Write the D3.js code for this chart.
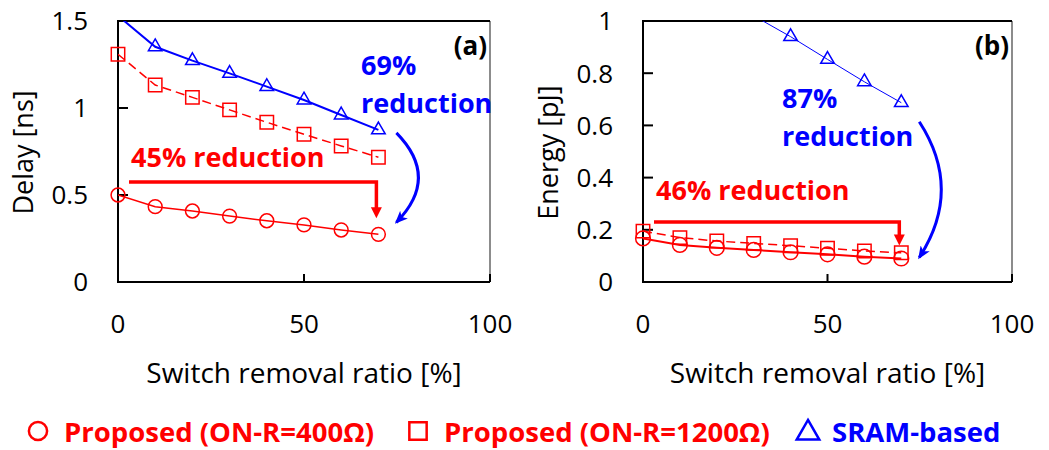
<!DOCTYPE html>
<html>
<head>
<meta charset="utf-8">
<script src="https://cdn.jsdelivr.net/npm/d3@7"></script>
<style>
  body { margin: 0; background: #fff; }
  svg { display: block; font-family: "Open Sans", sans-serif; }
</style>
</head>
<body>
<svg id="chart" width="1049" height="450"></svg>
<script>
// switch removal ratio [%]
const ratios = [0, 10, 20, 30, 40, 50, 60, 70];

// (a) delay [ns]
const delay400 = [0.500, 0.433, 0.408, 0.379, 0.352, 0.328, 0.299, 0.274];
const delay1200 = [1.309, 1.132, 1.061, 0.989, 0.918, 0.849, 0.782, 0.717];
const delaySram = [1.53, 1.352, 1.272, 1.199, 1.123, 1.046, 0.960, 0.874];

// (b) energy [pJ]
const energy400 = [0.167, 0.142, 0.131, 0.123, 0.114, 0.106, 0.097, 0.090];
const energy1200 = [0.195, 0.170, 0.157, 0.148, 0.139, 0.129, 0.119, 0.112];
const energySram = [1.33, 1.22, 1.12, 1.02, 0.940, 0.853, 0.767, 0.687];

const xTicks = [0, 50, 100];
const delayTicks = [0, 0.5, 1, 1.5];
const energyTicks = [0, 0.2, 0.4, 0.6, 0.8, 1];

const legendLabels = ["Proposed (ON-R=400Ω)", "Proposed (ON-R=1200Ω)", "SRAM-based"];

const RED = "#ff0000";
const BLUE = "#0000ff";

const svg = d3.select("#chart");
const defs = svg.append("defs");

defs.append("marker")
  .attr("id", "blueHead")
  .attr("viewBox", "0 0 12 10")
  .attr("refX", 10).attr("refY", 5)
  .attr("markerWidth", 13).attr("markerHeight", 11)
  .attr("markerUnits", "userSpaceOnUse")
  .attr("orient", "auto")
  .append("path")
  .attr("d", "M0,0 L12,5 L0,10 L3,5 Z")
  .attr("fill", BLUE);

function symbolPath(kind, size) {
  const type = kind === "circle" ? d3.symbolCircle : kind === "square" ? d3.symbolSquare : d3.symbolTriangle;
  return d3.symbol().type(type).size(size)();
}

/**
 * Draw one panel
 */
function drawPanel(cfg) {
  const g = svg.append("g");
  const x = d3.scaleLinear().domain([0, 100]).range([cfg.left, cfg.right]);
  const y = d3.scaleLinear().domain([0, cfg.yMax]).range([cfg.bottom, cfg.top]);

  const clipId = "clip-" + cfg.tag;
  defs.append("clipPath").attr("id", clipId)
    .append("rect")
    .attr("x", cfg.left).attr("y", cfg.top)
    .attr("width", cfg.right - cfg.left).attr("height", cfg.bottom - cfg.top);

  // frame
  g.append("line").attr("x1", cfg.right).attr("x2", cfg.right).attr("y1", cfg.top).attr("y2", cfg.bottom)
    .attr("stroke", "#666").attr("stroke-width", 1.5);
  g.append("path")
    .attr("d", `M${cfg.right},${cfg.top}H${cfg.left}V${cfg.bottom}H${cfg.right}`)
    .attr("fill", "none").attr("stroke", "#000").attr("stroke-width", 2);

  // y ticks (inside)
  g.selectAll(".ytick").data(cfg.yTicks).enter().append("line")
    .attr("x1", cfg.left).attr("x2", cfg.left + 10)
    .attr("y1", d => y(d)).attr("y2", d => y(d))
    .attr("stroke", "#000").attr("stroke-width", 2);
  g.selectAll(".ylab").data(cfg.yTicks).enter().append("text")
    .attr("x", cfg.left - 30).attr("y", d => y(d))
    .attr("dy", "0.36em")
    .attr("text-anchor", "end")
    .attr("font-size", 26)
    .text(d => d);

  // x ticks (inside)
  g.selectAll(".xtick").data(xTicks).enter().append("line")
    .attr("x1", d => x(d)).attr("x2", d => x(d))
    .attr("y1", cfg.bottom).attr("y2", cfg.bottom - 8)
    .attr("stroke", "#000").attr("stroke-width", 2);
  g.selectAll(".xlab").data(xTicks).enter().append("text")
    .attr("x", d => x(d)).attr("y", 333)
    .attr("text-anchor", "middle")
    .attr("font-size", 26)
    .text(d => d);

  // axis titles
  g.append("text")
    .attr("x", (cfg.left + cfg.right) / 2).attr("y", 383)
    .attr("text-anchor", "middle").attr("font-size", 28)
    .text("Switch removal ratio [%]");
  g.append("text")
    .attr("transform", `translate(${cfg.yTitleX},${(cfg.top + cfg.bottom) / 2 + 1}) rotate(-90)`)
    .attr("text-anchor", "middle").attr("font-size", 27)
    .text(cfg.yTitle);

  // panel tag
  g.append("text")
    .attr("x", cfg.right - 3).attr("y", 55)
    .attr("text-anchor", "end").attr("font-size", 26).attr("font-weight", "bold")
    .text(cfg.label);

  // series
  const line = d3.line().x((d, i) => x(ratios[i])).y(d => y(d));
  cfg.series.forEach(s => {
    g.append("path")
      .attr("clip-path", `url(#${clipId})`)
      .attr("d", line(s.values))
      .attr("fill", "none")
      .attr("stroke", s.color)
      .attr("stroke-width", s.width)
      .attr("stroke-dasharray", s.dash || null);

    const pts = s.values.map((v, i) => ({ x: ratios[i], v: v })).filter(p => p.v <= cfg.yMax);
    g.selectAll(null).data(pts).enter().append("path")
      .attr("d", symbolPath(s.shape, s.size))
      .attr("transform", p => `translate(${x(p.x)},${y(p.v)})`)
      .attr("fill", "none")
      .attr("stroke", s.color)
      .attr("stroke-width", 1.5);
  });

  // red straight arrow
  const last400 = cfg.series[0].values[ratios.length - 1];
  const ax0 = x(0) + 11, ax1 = x(70) - 2;
  const ay = cfg.redArrowY, tip = y(last400) - cfg.tipGap;
  g.append("path")
    .attr("d", `M${ax0},${ay}H${ax1}V${tip - 10}`)
    .attr("fill", "none").attr("stroke", RED).attr("stroke-width", 3.5);
  g.append("path")
    .attr("d", `M${ax1 - 5.5},${tip - 11}L${ax1 + 5.5},${tip - 11}L${ax1},${tip}Z`)
    .attr("fill", RED);

  g.append("text")
    .attr("x", cfg.redText[0]).attr("y", cfg.redText[1])
    .attr("font-size", 27).attr("font-weight", "bold").attr("fill", RED)
    .text(cfg.redLabel);

  // blue curved arrow
  const lastSram = cfg.series[2].values[ratios.length - 1];
  const bx = x(70) + 18;
  const by0 = y(lastSram) + cfg.blueStartGap;
  const by1 = y(last400) - cfg.blueEndGap;
  g.append("path")
    .attr("d", `M${bx},${by0}Q${bx + 44},${(by0 + by1) / 2} ${bx},${by1}`)
    .attr("fill", "none").attr("stroke", BLUE).attr("stroke-width", 3)
    .attr("marker-end", "url(#blueHead)");

  const bt = g.append("text")
    .attr("font-size", 27).attr("font-weight", "bold").attr("fill", BLUE);
  bt.append("tspan").attr("x", cfg.blueText[0]).attr("y", cfg.blueText[1]).text(cfg.blueLabel);
  bt.append("tspan").attr("x", cfg.blueText[0]).attr("y", cfg.blueText[1] + 38).text("reduction");
}

drawPanel({
  tag: "a", label: "(a)",
  left: 118, right: 490, top: 21, bottom: 282,
  yMax: 1.5, yTicks: delayTicks,
  yTitle: "Delay [ns]", yTitleX: 33,
  series: [
    { values: delay400, color: RED, width: 1.5, shape: "circle", size: 150 },
    { values: delay1200, color: RED, width: 1.5, dash: "9,5", shape: "square", size: 180 },
    { values: delaySram, color: BLUE, width: 2, shape: "triangle", size: 80 }
  ],
  redArrowY: 182, tipGap: 16, redText: [131, 167], redLabel: "45% reduction",
  blueStartGap: 3, blueEndGap: 12, blueText: [361, 75], blueLabel: "69%"
});

drawPanel({
  tag: "b", label: "(b)",
  left: 643, right: 1012, top: 21, bottom: 282,
  yMax: 1, yTicks: energyTicks,
  yTitle: "Energy [pJ]", yTitleX: 558,
  series: [
    { values: energy400, color: RED, width: 2, shape: "circle", size: 170 },
    { values: energy1200, color: RED, width: 1.5, dash: "9,5", shape: "square", size: 180 },
    { values: energySram, color: BLUE, width: 1, shape: "triangle", size: 80 }
  ],
  redArrowY: 222, tipGap: 13, redText: [656, 200], redLabel: "46% reduction",
  blueStartGap: 19, blueEndGap: 1, blueText: [782, 108], blueLabel: "87%"
});

// legend
const legendItems = [
  { label: legendLabels[0], shape: "circle", color: RED, mx: 38, tx: 64 },
  { label: legendLabels[1], shape: "square", color: RED, mx: 418, tx: 444 },
  { label: legendLabels[2], shape: "triangle", color: BLUE, mx: 808, tx: 832 }
];
const legend = svg.append("g");
legendItems.forEach(it => {
  const size = it.shape === "circle" ? 260 : it.shape === "square" ? 300 : 220;
  legend.append("path")
    .attr("d", symbolPath(it.shape, size))
    .attr("transform", `translate(${it.mx},${it.shape === "triangle" ? 433 : 431})`)
    .attr("fill", "none").attr("stroke", it.color).attr("stroke-width", 2.5);
  legend.append("text")
    .attr("x", it.tx).attr("y", 442)
    .attr("font-size", 27.5).attr("font-weight", "bold").attr("fill", it.color)
    .text(it.label);
});
</script>
</body>
</html>
